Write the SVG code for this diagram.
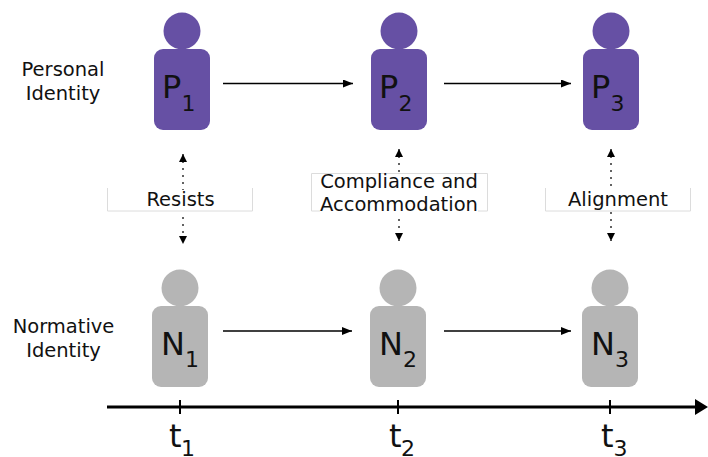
<svg xmlns="http://www.w3.org/2000/svg" width="708" height="457" viewBox="0 0 708 457">
<style>
text{font-family:"DejaVu Sans","Liberation Sans",sans-serif;fill:#111}
.lbl{font-size:19.500px;text-anchor:middle}
.big{font-size:32px}
.sub{font-size:22px}
.p{fill:#6650a4}
.n{fill:#b5b5b5}
.fr{fill:none;stroke:#dcdcdc;stroke-width:1}
.ar{stroke:#000;stroke-width:1.600;fill:none;marker-end:url(#a)}
.dot{stroke:#222;stroke-width:1.400;fill:none;stroke-dasharray:2 5;marker-start:url(#b);marker-end:url(#d)}
</style>
<defs>
<marker id="a" markerUnits="userSpaceOnUse" markerWidth="12" markerHeight="10" refX="10" refY="4" orient="auto"><path d="M0 0L10 4L0 8Z" fill="#000"/></marker>
<marker id="d" markerUnits="userSpaceOnUse" markerWidth="10" markerHeight="10" refX="8" refY="4" orient="auto"><path d="M0 0L8 4L0 8Z" fill="#000"/></marker>
<marker id="b" markerUnits="userSpaceOnUse" markerWidth="10" markerHeight="10" refX="0" refY="4" orient="auto"><path d="M8 0L0 4L8 8Z" fill="#000"/></marker>
</defs>
<g id="label-personal"><text class="lbl" x="63" y="76">Personal</text><text class="lbl" x="63" y="100">Identity</text></g>
<g id="label-normative"><text class="lbl" x="63.500" y="333">Normative</text><text class="lbl" x="63.500" y="357">Identity</text></g>
<g id="connectors">
<path class="ar" d="M223 83.500H353"/><path class="ar" d="M444 83.500H571"/>
<path class="ar" d="M223 331H352"/><path class="ar" d="M444 331H571"/>
<path class="dot" d="M183 154V244"/><path class="dot" d="M399 149V241"/><path class="dot" d="M611 149V241"/>
</g>
<g id="box-resists"><rect x="144" y="190" width="74" height="23" fill="#fff"/><path class="fr" d="M107.500 188V211H252.500V188"/><text class="lbl" x="180.500" y="206">Resists</text></g>
<g id="box-compliance"><rect x="316" y="172" width="166" height="43" fill="#fff"/><path class="fr" d="M311.500 173.500V211M487.500 173.500V211M311.500 173.500H487.500M311.500 211H320M478 211H487.500"/><text class="lbl" x="399" y="188">Compliance and</text><text class="lbl" x="399" y="211">Accommodation</text></g>
<g id="box-alignment"><rect x="566" y="188" width="104" height="24" fill="#fff"/><path class="fr" d="M545.500 188V211H690.500V188"/><text class="lbl" x="618" y="206">Alignment</text></g>
<g id="P1"><circle class="p" cx="182" cy="31" r="18.500"/><rect class="p" x="154" y="49" width="56" height="81" rx="9"/><text class="big" x="162" y="98">P</text><text class="sub" x="181.500" y="111">1</text></g>
<g id="P2"><circle class="p" cx="399" cy="31" r="18.500"/><rect class="p" x="371" y="49" width="56" height="81" rx="9"/><text class="big" x="379" y="98">P</text><text class="sub" x="398.500" y="111">2</text></g>
<g id="P3"><circle class="p" cx="611" cy="31" r="18.500"/><rect class="p" x="583" y="49" width="56" height="81" rx="9"/><text class="big" x="591" y="98">P</text><text class="sub" x="610.500" y="111">3</text></g>
<g id="N1"><circle class="n" cx="180" cy="288" r="18.500"/><rect class="n" x="152" y="306" width="56" height="81" rx="9"/><text class="big" x="161" y="355">N</text><text class="sub" x="185" y="367">1</text></g>
<g id="N2"><circle class="n" cx="398" cy="288" r="18.500"/><rect class="n" x="370" y="306" width="56" height="81" rx="9"/><text class="big" x="379" y="355">N</text><text class="sub" x="403" y="367">2</text></g>
<g id="N3"><circle class="n" cx="610" cy="288" r="18.500"/><rect class="n" x="582" y="306" width="56" height="81" rx="9"/><text class="big" x="591" y="355">N</text><text class="sub" x="615" y="367">3</text></g>
<g id="timeline">
<path d="M107 407H700" stroke="#000" stroke-width="3.200" fill="none"/>
<path d="M695 399L708 407L695 415Z" fill="#000"/>
<path d="M180 400V414M398 400V414M610 400V414" stroke="#000" stroke-width="2" fill="none"/>
<text class="big" x="169" y="447">t</text><text class="sub" x="181" y="456">1</text>
<text class="big" x="389" y="447">t</text><text class="sub" x="401" y="456">2</text>
<text class="big" x="601" y="447">t</text><text class="sub" x="613.500" y="456">3</text>
</g>
</svg>
